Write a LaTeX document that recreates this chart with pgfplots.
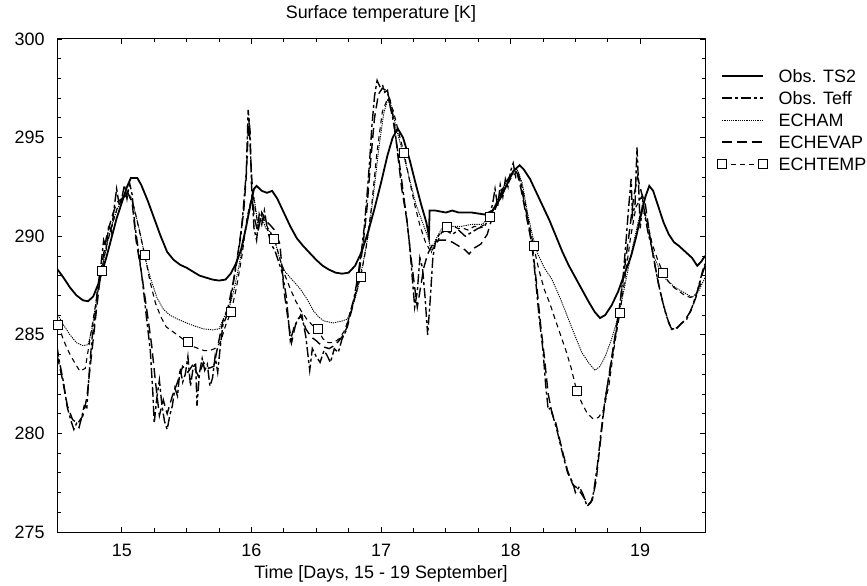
\documentclass[border=0pt]{standalone}
\usepackage{fontspec}
\setmainfont{Liberation Sans}
\usepackage{pgfplots}
\usepackage{pgfplotstable}
\pgfplotsset{compat=1.18}
\newcommand{\fz}{\fontsize{18}{21}\selectfont}
\pgfplotsset{sqlegend/.style={legend image code/.code={\draw[##1, mark repeat=1, mark phase=1] plot coordinates {(0bp,0bp) (41bp,0bp)};}}}

\pgfplotstableread{
x y
14.50 288.35
14.55 287.9
14.60 287.4
14.65 287.0
14.70 286.75
14.74 286.7
14.78 286.95
14.82 287.6
14.85 288.25
14.88 288.9
14.92 289.9
14.96 290.9
15.00 291.7
15.04 292.5
15.07 292.95
15.12 292.95
15.15 292.6
15.20 291.8
15.25 290.9
15.30 290.0
15.35 289.2
15.40 288.8
15.45 288.55
15.50 288.4
15.55 288.2
15.60 288.0
15.65 287.9
15.70 287.8
15.75 287.75
15.80 287.8
15.84 288.1
15.88 288.6
15.92 289.3
15.96 290.5
15.99 291.5
16.02 292.4
16.04 292.55
16.08 292.3
16.12 292.2
16.16 292.3
16.20 291.9
16.25 291.2
16.30 290.5
16.35 289.9
16.40 289.5
16.45 289.15
16.50 288.8
16.55 288.5
16.60 288.3
16.65 288.15
16.70 288.1
16.75 288.15
16.80 288.5
16.85 289.2
16.90 290.2
16.95 291.4
17.00 292.7
17.05 294.1
17.09 295.0
17.13 295.45
17.17 295.0
17.22 293.9
17.27 292.6
17.31 291.6
17.35 290.7
17.37 290.0
17.375 291.3
17.42 291.3
17.50 291.2
17.55 291.3
17.60 291.2
17.70 291.2
17.80 291.1
17.86 291.3
17.92 291.9
17.97 292.6
18.02 293.3
18.07 293.6
18.10 293.4
18.15 292.9
18.20 292.2
18.25 291.5
18.30 290.8
18.35 290.0
18.40 289.2
18.45 288.5
18.50 287.9
18.55 287.3
18.60 286.7
18.65 286.15
18.69 285.85
18.73 286.0
18.78 286.5
18.83 287.2
18.88 288.1
18.93 289.0
18.97 290.0
19.01 291.2
19.04 292.0
19.07 292.55
19.10 292.3
19.14 291.5
19.18 290.7
19.22 290.1
19.26 289.7
19.30 289.5
19.35 289.2
19.40 288.9
19.44 288.5
19.47 288.7
19.50 289.0
}\tsii

\pgfplotstableread{
x y
14.50 284.4
14.52 283.6
14.55 282.6
14.58 281.3
14.61 280.6
14.63 280.2
14.65 280.5
14.67 280.3
14.69 280.8
14.71 281.4
14.73 281.3
14.75 283.2
14.77 284.8
14.79 285.7
14.81 287.2
14.84 288.6
14.86 289.8
14.88 289.4
14.90 290.6
14.92 290.2
14.94 291.4
14.96 292.4
14.98 291.6
15.00 291.9
15.02 292.6
15.04 291.9
15.06 292.7
15.08 292.1
15.10 290.6
15.13 289.2
15.16 287.7
15.19 285.9
15.22 284.2
15.24 282.0
15.25 280.5
15.27 281.8
15.29 282.7
15.31 281.4
15.33 280.6
15.35 280.2
15.37 280.9
15.39 281.4
15.41 282.3
15.43 281.9
15.45 283.3
15.47 282.6
15.49 283.0
15.51 283.9
15.53 282.4
15.55 283.3
15.57 283.6
15.58 281.4
15.60 283.1
15.62 283.8
15.64 283.2
15.66 283.5
15.68 282.4
15.70 282.8
15.72 283.9
15.74 283.1
15.76 284.4
15.78 285.5
15.80 285.8
15.83 286.4
15.86 287.6
15.89 288.8
15.92 290.1
15.94 291.6
15.96 293.2
15.975 296.4
15.99 295.3
16.00 292.7
16.02 290.4
16.04 289.8
16.06 291.1
16.08 290.6
16.10 291.3
16.12 290.5
16.15 289.6
16.18 289.3
16.21 288.7
16.24 288.1
16.27 286.9
16.30 284.7
16.33 285.4
16.36 285.8
16.39 286.0
16.42 284.9
16.45 283.2
16.47 284.3
16.50 283.9
16.53 283.6
16.56 284.2
16.58 284.0
16.61 283.6
16.64 284.3
16.67 284.1
16.70 284.8
16.73 285.2
16.76 286.1
16.79 286.8
16.82 287.9
16.85 289.3
16.87 290.4
16.89 291.9
16.91 293.6
16.93 295.6
16.95 297.1
16.97 297.9
16.99 297.6
17.01 297.7
17.03 297.3
17.05 297.4
17.07 296.6
17.09 296.0
17.11 295.2
17.14 293.8
17.17 292.3
17.20 290.8
17.22 289.6
17.24 288.0
17.26 286.4
17.28 287.2
17.30 288.9
17.32 288.4
17.34 286.9
17.36 285.0
17.38 286.8
17.40 288.9
17.42 289.7
17.45 290.1
17.50 290.3
17.55 290.1
17.60 290.3
17.65 290.0
17.70 290.2
17.75 290.4
17.80 290.5
17.83 290.9
17.86 291.6
17.88 292.4
17.90 291.5
17.92 292.6
17.94 292.0
17.96 292.9
17.98 292.5
18.00 293.3
18.02 293.7
18.04 293.0
18.06 293.2
18.08 292.6
18.10 291.9
18.13 290.9
18.16 289.8
18.19 288.0
18.22 285.9
18.25 284.2
18.27 282.5
18.29 281.2
18.31 281.3
18.33 280.8
18.36 280.1
18.40 279.0
18.44 278.0
18.48 277.5
18.50 277.0
18.53 277.3
18.56 276.9
18.59 276.3
18.62 276.5
18.64 277.0
18.67 278.4
18.70 280.2
18.73 281.8
18.76 282.9
18.79 284.2
18.82 285.4
18.85 286.9
18.87 288.1
18.89 289.7
18.91 291.4
18.93 292.9
18.94 291.0
18.96 291.6
18.975 294.5
18.99 292.2
19.00 290.4
19.02 291.8
19.04 290.9
19.06 290.2
19.09 289.4
19.12 288.3
19.16 287.0
19.20 286.0
19.24 285.3
19.28 285.3
19.32 285.6
19.36 285.8
19.40 286.4
19.44 287.2
19.48 288.2
19.50 288.6
}\teff

\pgfplotstableread{
x y
14.50 286.1
14.55 285.5
14.60 285.0
14.65 284.6
14.70 284.45
14.74 284.5
14.77 285.3
14.80 286.6
14.84 288.1
14.88 289.4
14.92 290.5
14.96 291.3
15.00 291.8
15.04 292.2
15.07 292.0
15.10 291.3
15.14 290.2
15.18 288.9
15.22 287.9
15.27 286.9
15.32 286.3
15.37 286.0
15.43 285.8
15.50 285.6
15.56 285.45
15.63 285.3
15.70 285.25
15.75 285.3
15.79 285.9
15.83 286.4
15.87 287.4
15.91 288.7
15.95 290.1
15.99 291.6
16.02 292.0
16.05 290.6
16.08 291.0
16.11 290.4
16.15 290.2
16.18 289.8
16.22 288.8
16.26 288.2
16.30 287.9
16.34 287.6
16.38 287.3
16.43 286.8
16.48 286.2
16.52 285.9
16.56 285.7
16.63 285.6
16.70 285.7
16.74 285.8
16.78 286.4
16.82 287.3
16.86 288.6
16.90 290.0
16.94 292.0
16.98 294.3
17.02 296.2
17.05 296.9
17.08 296.6
17.12 295.4
17.17 294.2
17.22 292.9
17.27 291.6
17.32 290.7
17.36 290.0
17.39 289.2
17.42 289.8
17.47 290.4
17.55 290.5
17.62 290.5
17.70 290.6
17.78 290.6
17.84 291.0
17.89 291.7
17.93 292.3
17.97 292.8
18.01 293.1
18.05 293.4
18.09 292.7
18.13 291.2
18.17 290.0
18.21 289.1
18.26 288.4
18.32 287.8
18.38 286.9
18.44 285.9
18.50 284.9
18.55 284.1
18.60 283.6
18.65 283.2
18.69 283.4
18.73 283.9
18.78 284.8
18.82 285.7
18.86 286.8
18.90 288.1
18.94 289.4
18.98 290.6
19.01 291.4
19.04 291.0
19.07 290.0
19.11 288.9
19.15 288.3
19.20 287.8
19.27 287.4
19.35 287.1
19.40 286.9
19.45 287.2
19.50 287.9
}\echam

\pgfplotstableread{
x y
14.50 284.0
14.54 282.8
14.58 281.4
14.62 280.7
14.66 280.5
14.70 280.9
14.73 281.8
14.76 283.6
14.80 286.0
14.84 288.3
14.88 289.9
14.92 290.9
14.96 291.7
15.00 291.9
15.04 292.3
15.08 291.7
15.11 289.8
15.15 288.2
15.19 286.4
15.23 284.5
15.26 282.6
15.29 280.9
15.32 281.7
15.35 281.0
15.39 281.9
15.43 282.6
15.47 283.4
15.51 283.1
15.55 283.5
15.59 282.9
15.63 283.6
15.67 283.3
15.71 283.4
15.74 284.4
15.78 285.7
15.82 286.4
15.86 287.7
15.90 289.3
15.94 291.2
15.96 293.0
15.98 296.0
16.00 293.3
16.02 291.0
16.05 290.2
16.08 291.2
16.11 290.8
16.14 290.6
16.18 290.3
16.22 289.6
16.25 287.3
16.28 285.9
16.31 284.6
16.34 285.5
16.38 286.0
16.42 285.3
16.46 284.9
16.50 284.7
16.55 284.4
16.60 284.3
16.65 284.5
16.70 284.9
16.74 285.4
16.78 286.4
16.82 287.6
16.86 289.5
16.89 291.3
16.92 293.8
16.95 296.0
16.98 297.2
17.01 297.5
17.04 297.4
17.07 296.9
17.10 295.8
17.13 294.1
17.16 292.4
17.20 290.8
17.23 289.0
17.26 287.4
17.28 286.4
17.30 287.2
17.33 288.4
17.36 289.1
17.40 289.6
17.45 289.8
17.50 289.8
17.55 289.7
17.60 289.5
17.65 289.3
17.68 289.1
17.72 289.4
17.77 289.6
17.82 290.1
17.86 291.0
17.90 291.7
17.94 292.4
17.98 292.9
18.02 293.3
18.05 293.2
18.08 292.4
18.11 291.4
18.14 290.4
18.17 289.4
18.20 287.6
18.23 285.6
18.26 283.9
18.29 282.0
18.32 281.0
18.35 280.5
18.40 279.1
18.44 278.1
18.48 277.4
18.52 277.2
18.56 276.8
18.60 276.4
18.63 276.6
18.66 277.6
18.69 279.4
18.72 281.2
18.76 283.0
18.80 284.7
18.84 286.4
18.88 288.4
18.92 290.4
18.95 292.0
18.98 293.0
19.01 292.2
19.04 291.6
19.07 290.2
19.10 289.0
19.14 287.6
19.18 286.5
19.22 285.6
19.25 285.2
19.29 285.4
19.34 285.7
19.39 286.2
19.43 286.9
19.47 287.9
19.50 288.5
}\echevap

\pgfplotstableread{
x y
14.510 285.5
14.552 284.7
14.593 284.1
14.635 283.6
14.677 283.15
14.718 283.3
14.760 285.0
14.802 286.7
14.843 288.24
14.885 289.6
14.927 290.6
14.968 291.5
15.010 291.9
15.052 292.2
15.093 291.5
15.135 290.3
15.177 289.05
15.218 287.7
15.260 286.6
15.302 285.9
15.343 285.4
15.385 285.2
15.427 285.0
15.468 284.8
15.510 284.63
15.552 284.4
15.593 284.3
15.635 284.2
15.677 284.2
15.718 284.3
15.760 284.6
15.802 285.5
15.843 286.16
15.885 287.4
15.927 289.0
15.968 291.0
16.010 292.2
16.052 290.5
16.093 290.9
16.135 290.3
16.177 289.86
16.218 288.9
16.260 288.0
16.302 287.3
16.343 286.7
16.385 286.2
16.427 285.8
16.468 285.5
16.510 285.29
16.552 284.8
16.593 284.6
16.635 284.6
16.677 284.8
16.718 285.2
16.760 286.0
16.802 287.0
16.843 287.93
16.885 289.4
16.927 291.5
16.968 294.2
17.010 296.3
17.052 297.0
17.093 296.4
17.135 295.3
17.177 294.22
17.218 292.9
17.260 291.6
17.302 290.5
17.343 289.7
17.385 289.2
17.427 289.6
17.468 290.2
17.510 290.47
17.552 290.5
17.593 290.4
17.635 290.4
17.677 290.3
17.718 290.5
17.760 290.45
17.802 290.6
17.843 290.97
17.885 291.6
17.927 292.1
17.968 292.6
18.010 293.0
18.052 293.3
18.093 292.4
18.135 290.9
18.177 289.5
18.218 288.3
18.260 287.3
18.302 286.6
18.343 285.8
18.385 285.0
18.427 284.2
18.468 283.3
18.510 282.15
18.552 281.5
18.593 281.0
18.635 280.75
18.677 280.8
18.718 281.2
18.760 282.5
18.802 284.5
18.843 286.1
18.885 288.0
18.927 290.0
18.968 291.5
19.010 292.0
19.052 290.8
19.093 289.6
19.135 288.8
19.177 288.13
19.218 287.7
19.260 287.4
19.302 287.2
19.343 287.0
19.385 286.9
19.427 286.95
19.468 287.6
}\echtemp

\begin{document}
\begin{tikzpicture}
\useasboundingbox (0,0) rectangle (867bp,586bp);
\begin{axis}[
  at={(57bp,54bp)}, anchor=south west,
  scale only axis, width=648bp, height=493bp,
  xmin=14.5, xmax=19.5, ymin=275, ymax=300,
  xtick={15,16,17,18,19}, ytick={275,280,...,300},
  minor x tick num=3, minor y tick num=4,
  tick align=inside,
  major tick length=5bp, minor tick length=3.5bp,
  axis line style={line width=1bp},
  every tick/.style={black, line width=0.8bp},
  /pgf/number format/assume math mode=true,
  tick label style={font=\fz},
  xticklabel style={anchor=base, yshift=-24bp},
  yticklabel style={xshift=-9bp},
  title={Surface temperature [K]},
  title style={font=\fz, at={(0.5,1)}, anchor=base, yshift=15bp},
  xlabel={Time [Days, 15 - 19 September]},
  xlabel style={font=\fz, at={(0.5,0)}, anchor=base, yshift=-46bp},
  legend cell align=left,
  legend style={draw=none, fill=none, font=\fz, at={(1,1)}, anchor=north west,
    xshift=12.5bp, yshift=-30.5bp, inner sep=0pt, row sep=9bp, column sep=11bp,
    nodes={inner sep=0pt, text height=13bp, text depth=0pt}},
  legend image code/.code={\draw[#1] plot coordinates {(0bp,0bp) (41bp,0bp)};},
]
\addplot[black, line width=1.8bp, mark=none] table {\tsii};
\addlegendentry{Obs. TS2}
\addplot[black, line width=1.4bp, mark=none, dash pattern=on 10bp off 3bp on 3bp off 3bp] table {\teff};
\addlegendentry{Obs. Teff}
\addplot[black, line width=0.9bp, mark=none, dash pattern=on 1.2bp off 1bp] table {\echam};
\addlegendentry{ECHAM}
\addplot[black, line width=1.4bp, mark=none, dash pattern=on 10bp off 5bp] table {\echevap};
\addlegendentry{ECHEVAP}
\addplot[black, line width=1.1bp, dash pattern=on 5bp off 4bp, mark=square*, mark size=4.5bp,
  mark options={solid, fill=white, line width=0.9bp}, mark repeat=8, mark phase=1, sqlegend] table {\echtemp};
\addlegendentry{ECHTEMP}
\end{axis}
\end{tikzpicture}
\end{document}
